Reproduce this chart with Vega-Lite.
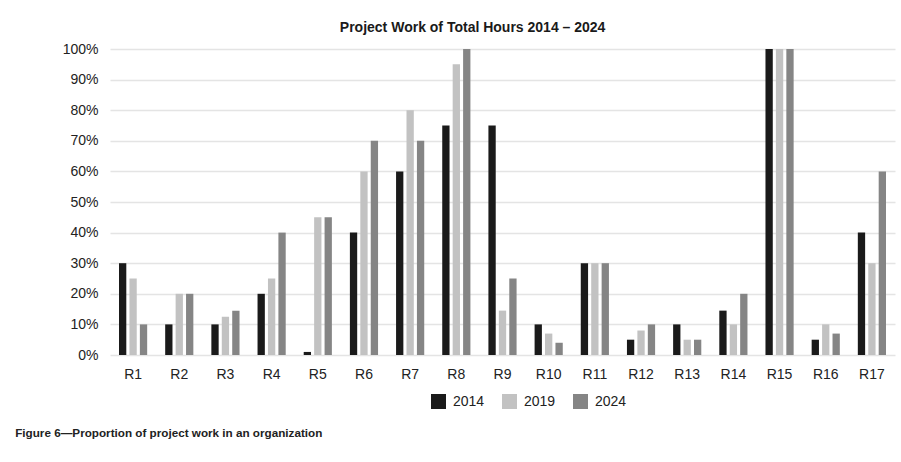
{
  "$schema": "https://vega.github.io/schema/vega-lite/v6.json",
  "background": "white",
  "padding": {"left": 15, "top": 21, "right": 5, "bottom": 10},
  "config": {
    "font": "Liberation Sans",
    "view": {"stroke": null},
    "concat": {"spacing": 0}
  },
  "title": {
    "text": "Figure 6\u2014Proportion of project work in an organization",
    "orient": "bottom",
    "anchor": "start",
    "frame": "bounds",
    "dx": -47,
    "fontSize": 11.7,
    "fontWeight": "bold",
    "color": "#222222",
    "offset": 19
  },
  "vconcat": [
    {
      "width": 785,
      "height": 306,
      "title": {
        "text": "Project Work of Total Hours 2014 \u2013 2024",
        "fontSize": 14,
        "fontWeight": "bold",
        "color": "#1a1a1a",
        "offset": 7,
        "dx": -6,
        "anchor": "middle",
        "frame": "bounds"
      },
      "data": {
        "values": [
          {"r": "R1", "year": "2014", "v": 30}, {"r": "R1", "year": "2019", "v": 25}, {"r": "R1", "year": "2024", "v": 10},
          {"r": "R2", "year": "2014", "v": 10}, {"r": "R2", "year": "2019", "v": 20}, {"r": "R2", "year": "2024", "v": 20},
          {"r": "R3", "year": "2014", "v": 10}, {"r": "R3", "year": "2019", "v": 12.5}, {"r": "R3", "year": "2024", "v": 14.5},
          {"r": "R4", "year": "2014", "v": 20}, {"r": "R4", "year": "2019", "v": 25}, {"r": "R4", "year": "2024", "v": 40},
          {"r": "R5", "year": "2014", "v": 1}, {"r": "R5", "year": "2019", "v": 45}, {"r": "R5", "year": "2024", "v": 45},
          {"r": "R6", "year": "2014", "v": 40}, {"r": "R6", "year": "2019", "v": 60}, {"r": "R6", "year": "2024", "v": 70},
          {"r": "R7", "year": "2014", "v": 60}, {"r": "R7", "year": "2019", "v": 80}, {"r": "R7", "year": "2024", "v": 70},
          {"r": "R8", "year": "2014", "v": 75}, {"r": "R8", "year": "2019", "v": 95}, {"r": "R8", "year": "2024", "v": 100},
          {"r": "R9", "year": "2014", "v": 75}, {"r": "R9", "year": "2019", "v": 14.5}, {"r": "R9", "year": "2024", "v": 25},
          {"r": "R10", "year": "2014", "v": 10}, {"r": "R10", "year": "2019", "v": 7}, {"r": "R10", "year": "2024", "v": 4},
          {"r": "R11", "year": "2014", "v": 30}, {"r": "R11", "year": "2019", "v": 30}, {"r": "R11", "year": "2024", "v": 30},
          {"r": "R12", "year": "2014", "v": 5}, {"r": "R12", "year": "2019", "v": 8}, {"r": "R12", "year": "2024", "v": 10},
          {"r": "R13", "year": "2014", "v": 10}, {"r": "R13", "year": "2019", "v": 5}, {"r": "R13", "year": "2024", "v": 5},
          {"r": "R14", "year": "2014", "v": 14.5}, {"r": "R14", "year": "2019", "v": 10}, {"r": "R14", "year": "2024", "v": 20},
          {"r": "R15", "year": "2014", "v": 100}, {"r": "R15", "year": "2019", "v": 100}, {"r": "R15", "year": "2024", "v": 100},
          {"r": "R16", "year": "2014", "v": 5}, {"r": "R16", "year": "2019", "v": 10}, {"r": "R16", "year": "2024", "v": 7},
          {"r": "R17", "year": "2014", "v": 40}, {"r": "R17", "year": "2019", "v": 30}, {"r": "R17", "year": "2024", "v": 60}
        ]
      },
      "mark": {"type": "bar"},
      "encoding": {
        "x": {
          "field": "r",
          "type": "nominal",
          "sort": null,
          "scale": {"paddingInner": 0.39, "paddingOuter": 0.195},
          "axis": {
            "title": null,
            "labelAngle": 0,
            "labelFontSize": 14,
            "labelColor": "#222222",
            "ticks": false,
            "tickSize": 0,
            "domain": false,
            "labelPadding": 12,
            "grid": false
          }
        },
        "xOffset": {
          "field": "year",
          "type": "nominal",
          "scale": {"paddingInner": 0.3, "paddingOuter": 0}
        },
        "y": {
          "field": "v",
          "type": "quantitative",
          "scale": {"domain": [0, 100], "nice": false},
          "axis": {
            "title": null,
            "values": [0, 10, 20, 30, 40, 50, 60, 70, 80, 90, 100],
            "labelExpr": "datum.value + '%'",
            "labelFontSize": 14,
            "labelColor": "#222222",
            "ticks": false,
            "tickSize": 0,
            "domain": false,
            "labelPadding": 12,
            "gridColor": "#e4e4e4",
            "gridWidth": 1.5
          }
        },
        "color": {
          "field": "year",
          "type": "nominal",
          "scale": {"domain": ["2014", "2019", "2024"], "range": ["#1a1a1a", "#c2c2c2", "#858585"]},
          "legend": {
            "title": null,
            "orient": "none",
            "direction": "horizontal",
            "legendX": 321,
            "legendY": 345,
            "symbolType": "square",
            "symbolSize": 225,
            "symbolStrokeWidth": 0,
            "labelFontSize": 14,
            "labelColor": "#222222",
            "labelOffset": 7,
            "columnPadding": 17
          }
        }
      }
    }
  ]
}
